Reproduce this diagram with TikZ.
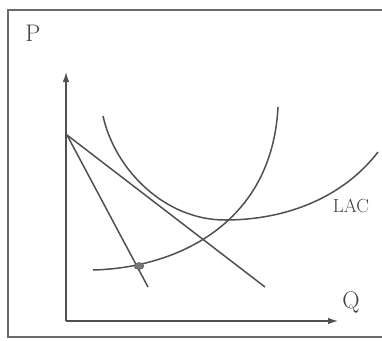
\documentclass[tikz,border=0pt]{standalone}
\usepackage{tikz}
\usetikzlibrary{arrows.meta,calc,positioning,shapes.geometric}
\definecolor{inkcolor}{RGB}{80,80,80}
\definecolor{framecolor}{RGB}{105,105,105}
\definecolor{dotcolor}{RGB}{120,120,120}
\tikzset{
  axisline/.style={-{Latex[length=10pt,width=6.5pt]},draw=inkcolor,line width=1.2pt},
  costcurve/.style={draw=inkcolor,line width=1.5pt},
  demandline/.style={draw=inkcolor,line width=1.5pt},
  axislabel/.style={font=\fontsize{24}{26}\selectfont,text=black!75,inner sep=0pt},
  curvelabel/.style={font=\fontsize{19}{21}\selectfont,text=black!75,inner sep=0pt}
}

\begin{document}
\begin{tikzpicture}[x=1pt,y=-1pt]
  \useasboundingbox (0,0) rectangle (382,340);

  % --- Frame ---
  \draw[draw=framecolor,line width=1.3pt] (382,10) -- (8,10) -- (8,337) -- (382,337);

  % --- Axes ---
  \coordinate (O) at (66,321);
  \coordinate (ytop) at (66,72);
  \coordinate (xend) at (338,321);
  \draw[axisline] (O) -- (ytop);
  \draw[axisline] (O) -- (xend);
  \node[axislabel] (P) at (33,33) {P};
  \node[axislabel] (Q) at (351,302) {Q};

  % --- Demand lines ---
  \coordinate (A) at (67,135);
  \coordinate (d1) at (148,287);
  \coordinate (d2) at (265,287);
  \draw[demandline] (A) -- (d1);
  \draw[demandline] (A) -- (d2);

  % --- Long-run average cost ---
  \coordinate (lacstart) at (103,116);
  \coordinate (lacmin) at (225,220);
  \coordinate (lacend) at (378,152);
  \draw[costcurve] (lacstart) .. controls (115,170) and (165,220) .. (lacmin)
    .. controls (290,220) and (345,195) .. (lacend);
  \node[curvelabel] (LAC) at (351,206) {LAC};

  % --- Rising cost curve ---
  \coordinate (mcstart) at (93,270);
  \coordinate (mcend) at (278,107);
  \draw[costcurve] (mcstart) .. controls (175,268) and (272,225) .. (mcend);

  % --- Tangency point ---
  \node[draw=inkcolor,fill=dotcolor,ellipse,minimum width=10pt,minimum height=7pt,
    inner sep=0pt] (E) at (139,266) {};

\end{tikzpicture}
\end{document}
